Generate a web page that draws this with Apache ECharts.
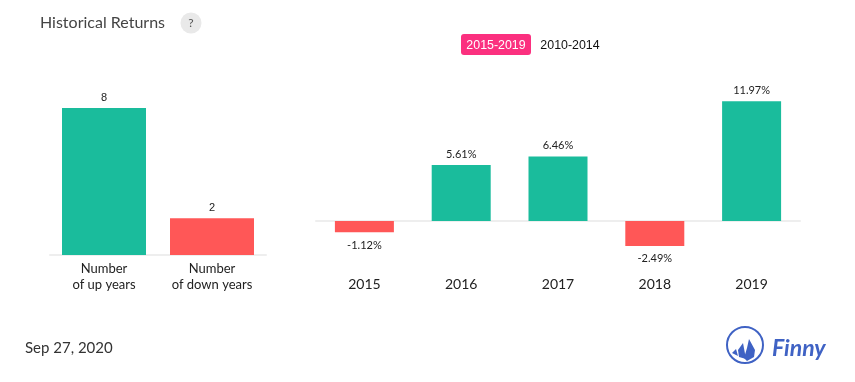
<!DOCTYPE html>
<html><head><meta charset="utf-8">
<style>html,body{margin:0;padding:0;background:#fff}#c{width:855px;height:382px}</style>
<script src="https://cdn.jsdelivr.net/npm/echarts@6/dist/echarts.min.js"></script>
</head><body><div id="c"></div>
<script>
const countCategories = ['Number\nof up years', 'Number\nof down years'];
const countValues = [8, 2];
const years = ['2015', '2016', '2017', '2018', '2019'];
const returns = [-1.12, 5.61, 6.46, -2.49, 11.97];
const UP = '#1abc9c', DOWN = '#ff5757', AXIS = '#eeeeee';
const chart = echarts.init(document.getElementById('c'), null, {renderer: 'canvas'});
const F = 'Lato';
chart.setOption({
  animation: false,
  backgroundColor: '#fff',
  title: {text: 'Historical Returns', left: 35, top: 10,
    textStyle: {fontFamily: F, fontSize: 16, fontWeight: 'normal', color: '#444'}},
  grid: [
    {left: 50, width: 216, top: 95, height: 160, containLabel: false},
    {left: 316, width: 484, top: 101, height: 160, containLabel: false}
  ],
  xAxis: [
    {gridIndex: 0, type: 'category', data: countCategories,
      axisLine: {lineStyle: {color: AXIS, width: 2}}, axisTick: {show: false},
      axisLabel: {fontFamily: F, fontSize: 13, color: '#222', margin: 6, lineHeight: 16, interval: 0}},
    {gridIndex: 1, type: 'category', data: years,
      axisLine: {onZero: true, lineStyle: {color: AXIS, width: 2}}, axisTick: {show: false},
      axisLabel: {fontFamily: F, fontSize: 14, color: '#222', margin: 16, interval: 0}}
  ],
  yAxis: [
    {gridIndex: 0, type: 'value', show: false, min: 0, max: 8.71, splitLine: {show: false}},
    {gridIndex: 1, type: 'value', show: false, min: -4, max: 12, splitLine: {show: false}}
  ],
  series: [
    {type: 'bar', xAxisIndex: 0, yAxisIndex: 0, barWidth: 84,
      data: countValues.map((v, i) => ({value: v, itemStyle: {color: i === 0 ? UP : DOWN}})),
      label: {show: true, position: 'top', distance: 5, fontFamily: 'Liberation Sans', fontSize: 11, color: '#222'}},
    {type: 'bar', xAxisIndex: 1, yAxisIndex: 1, barWidth: 59,
      data: returns.map(v => ({value: v, itemStyle: {color: v >= 0 ? UP : DOWN},
        label: {position: v >= 0 ? 'top' : 'bottom', distance: v >= 0 ? 5 : 7.5}})),
      label: {show: true, fontFamily: F, fontSize: 11, color: '#222', formatter: p => p.value.toFixed(2) + '%'}}
  ],
  graphic: [
    {type: 'circle', shape: {cx: 191, cy: 23, r: 10.5}, style: {fill: '#e9e9e9'}},
    {type: 'text', x: 191, y: 23, style: {text: '?', fontFamily: F, fontSize: 12, fill: '#555', align: 'center', verticalAlign: 'middle'}},
    {type: 'rect', shape: {x: 461, y: 34, width: 70, height: 21, r: 3}, style: {fill: '#fb307f'}},
    {type: 'text', x: 496, y: 45.5, style: {text: '2015-2019', fontFamily: 'Liberation Sans', fontSize: 12.4, fill: '#fff', align: 'center', verticalAlign: 'middle'}},
    {type: 'text', x: 570, y: 45.5, style: {text: '2010-2014', fontFamily: 'Liberation Sans', fontSize: 12.4, fill: '#111', align: 'center', verticalAlign: 'middle'}},
    {type: 'text', x: 25, y: 348, style: {text: 'Sep 27, 2020', fontFamily: F, fontSize: 15, fill: '#333', align: 'left', verticalAlign: 'middle'}},
    {type: 'circle', shape: {cx: 745, cy: 345, r: 18}, style: {fill: 'none', stroke: '#3f62c4', lineWidth: 2}},
    {type: 'polygon', shape: {points: [[736,349],[738,356],[732,353]]}, style: {fill: '#3f62c4'}},
    {type: 'polygon', shape: {points: [[743,343],[746,359],[739,357],[738,350]]}, style: {fill: '#3f62c4'}},
    {type: 'polygon', shape: {points: [[749,339],[755,350],[754,357],[747,361],[744,358],[747,348]]}, style: {fill: '#3f62c4'}},
    {type: 'text', x: 772, y: 349, style: {text: 'Finny', fontFamily: 'Lato', fontStyle: 'italic', fontWeight: 'bold', fontSize: 23, fill: '#3f62c4', align: 'left', verticalAlign: 'middle'}}
  ]
});
</script></body></html>
